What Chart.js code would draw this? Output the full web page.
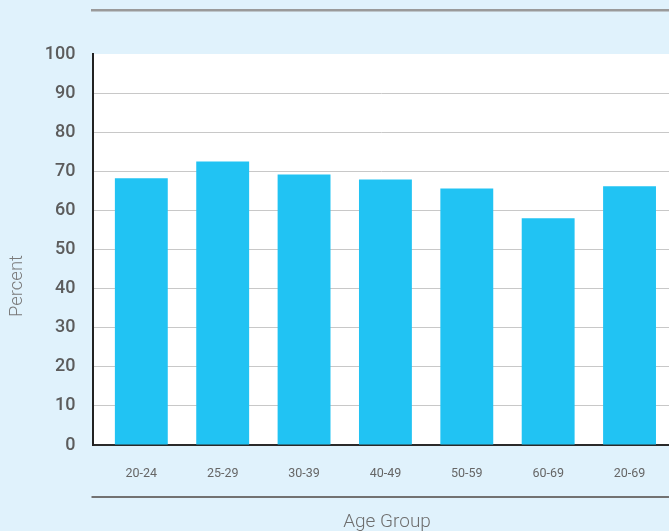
<!DOCTYPE html>
<html>
<head>
<meta charset="utf-8">
<script src="https://cdn.jsdelivr.net/npm/chart.js@4/dist/chart.umd.min.js"></script>
<style>
  html, body { margin: 0; padding: 0; background: #e0f2fc; }
  #wrap { width: 669px; height: 531px; position: relative; }
</style>
</head>
<body>
<div id="wrap"><canvas id="c" width="669" height="531"></canvas></div>
<script>
// Share of each age group, in percent
const categories = ['20-24', '25-29', '30-39', '40-49', '50-59', '60-69', '20-69'];
const percentValues = [68.2, 72.5, 69.2, 67.9, 65.6, 58.0, 66.2];
const yTickValues = [0, 10, 20, 30, 40, 50, 60, 70, 80, 90, 100];
const xTitle = 'Age Group';
const yTitle = 'Percent';

// White plotting panel behind the bars
const panelBackground = {
  id: 'panelBackground',
  beforeDraw(chart) {
    const { ctx, chartArea: a } = chart;
    ctx.save();
    ctx.fillStyle = '#ffffff';
    ctx.fillRect(a.left, a.top, a.right - a.left, a.bottom - a.top);
    ctx.restore();
  }
};

// Rules above and below the plot, and the two axis titles
const frameDecor = {
  id: 'frameDecor',
  afterDraw(chart) {
    const { ctx, chartArea: a } = chart;
    ctx.save();
    ctx.strokeStyle = '#9a9a9a';
    ctx.lineWidth = 2.6;
    ctx.beginPath();
    ctx.moveTo(a.left - 1.5, 10.3);
    ctx.lineTo(chart.width, 10.3);
    ctx.stroke();

    ctx.strokeStyle = '#727272';
    ctx.lineWidth = 2;
    ctx.beginPath();
    ctx.moveTo(a.left - 1, 497);
    ctx.lineTo(chart.width, 497);
    ctx.stroke();

    ctx.fillStyle = '#6e6e6e';
    ctx.font = '300 19px Roboto';
    ctx.textAlign = 'center';
    ctx.textBaseline = 'middle';
    ctx.fillText(xTitle, 387, 522);

    ctx.fillStyle = '#7a7a7a';
    ctx.font = '300 18.5px Roboto';
    ctx.translate(17, 286);
    ctx.rotate(-Math.PI / 2);
    ctx.fillText(yTitle, 0, 0);
    ctx.restore();
  }
};

new Chart(document.getElementById('c'), {
  type: 'bar',
  data: {
    datasets: [{
      data: categories.map((c, i) => ({ x: i, y: percentValues[i] })),
      backgroundColor: '#21c3f3',
      borderWidth: 0,
      barPercentage: 0.65,
      categoryPercentage: 1
    }]
  },
  options: {
    responsive: false,
    animation: false,
    devicePixelRatio: 1,
    layout: { padding: { top: 54, right: 0, bottom: 0, left: 0 } },
    plugins: { legend: { display: false }, tooltip: { enabled: false } },
    scales: {
      x: {
        type: 'linear',
        offset: false,
        min: -0.6,
        max: 6.485,
        afterBuildTicks: s => { s.ticks = categories.map((c, i) => ({ value: i })); },
        afterFit: s => { s.height = 86; },
        grid: { display: false, drawTicks: false },
        border: { display: true, color: '#2a2a2a', width: 2 },
        ticks: {
          autoSkip: false,
          maxRotation: 0,
          padding: 21,
          color: '#666666',
          font: { family: 'Roboto', size: 12.5 },
          callback: v => categories[v] ?? ''
        }
      },
      y: {
        min: 0,
        max: 100,
        afterBuildTicks: s => { s.ticks = yTickValues.map(v => ({ value: v })); },
        afterFit: s => { s.width = 92.5; },
        grid: {
          drawTicks: false,
          color: ctx => (ctx.tick && (ctx.tick.value === 100 || ctx.tick.value === 0)) ? 'rgba(0,0,0,0)' : '#c8c8c8',
          lineWidth: 1
        },
        border: { display: true, color: '#222222', width: 2 },
        ticks: {
          padding: 17,
          color: '#5c5c5c',
          font: { family: 'Roboto', size: 18, weight: '500' }
        }
      }
    }
  },
  plugins: [panelBackground, frameDecor]
});
</script>
</body>
</html>
